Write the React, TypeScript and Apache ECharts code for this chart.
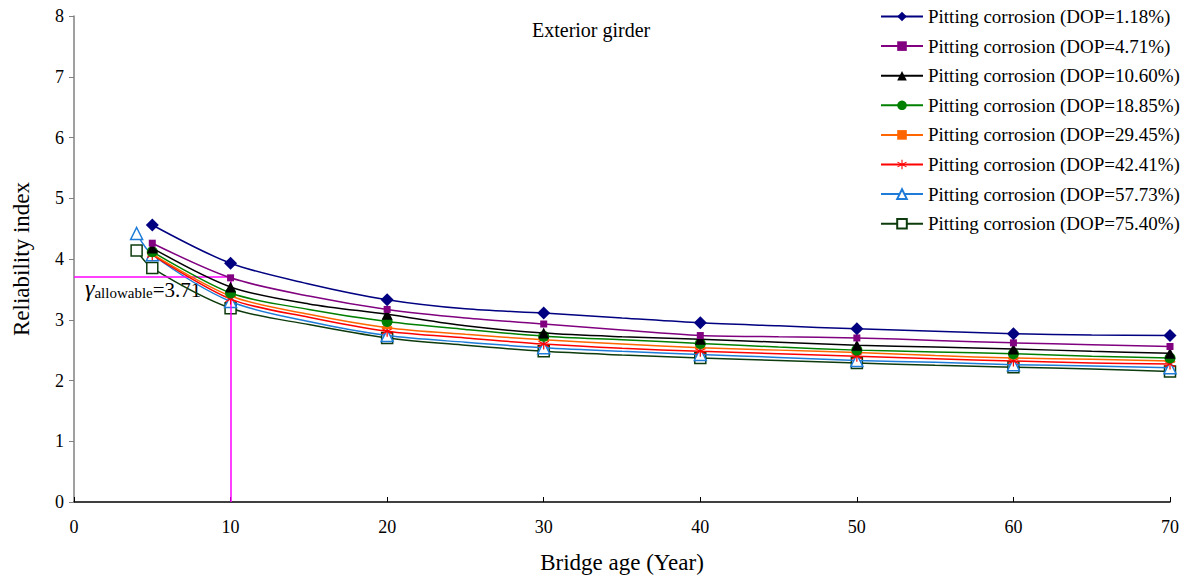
import React, { useEffect, useRef } from "react";
import * as echarts from "echarts";

// Bridge age (years) with data points; markers only on markerYears
const years = [5, 10, 15, 20, 25, 30, 35, 40, 45, 50, 55, 60, 65, 70];
const markerYears = [4, 5, 10, 20, 30, 40, 50, 60, 70];

const seriesNames = [
  "Pitting corrosion (DOP=1.18%)",
  "Pitting corrosion (DOP=4.71%)",
  "Pitting corrosion (DOP=10.60%)",
  "Pitting corrosion (DOP=18.85%)",
  "Pitting corrosion (DOP=29.45%)",
  "Pitting corrosion (DOP=42.41%)",
  "Pitting corrosion (DOP=57.73%)",
  "Pitting corrosion (DOP=75.40%)",
];

const dop118 = [4.56, 3.93, 3.59, 3.33, 3.18, 3.11, 3.03, 2.95, 2.9, 2.85, 2.81, 2.77, 2.75, 2.74];
const dop471 = [4.26, 3.69, 3.39, 3.17, 3.03, 2.93, 2.83, 2.74, 2.72, 2.7, 2.66, 2.62, 2.59, 2.56];
const dop1060 = [4.18, 3.54, 3.26, 3.09, 2.9, 2.78, 2.72, 2.68, 2.63, 2.58, 2.55, 2.52, 2.48, 2.45];
const dop1885 = [4.12, 3.44, 3.17, 2.97, 2.84, 2.73, 2.67, 2.61, 2.55, 2.5, 2.47, 2.44, 2.4, 2.37];
const dop2945 = [4.08, 3.39, 3.09, 2.87, 2.76, 2.67, 2.6, 2.54, 2.5, 2.46, 2.41, 2.37, 2.35, 2.32];
const dop4241 = [4.07, 3.34, 3.04, 2.81, 2.7, 2.6, 2.53, 2.48, 2.44, 2.4, 2.36, 2.32, 2.29, 2.27];
const dop5773 = [4.07, 3.3, 2.97, 2.74, 2.63, 2.54, 2.48, 2.43, 2.38, 2.33, 2.3, 2.26, 2.24, 2.21];
const dop7540 = [3.85, 3.19, 2.92, 2.7, 2.58, 2.48, 2.42, 2.37, 2.33, 2.29, 2.25, 2.22, 2.19, 2.15];

// Two series also have a value at age 4
const earlyYear = 4;
const dop5773Early = 4.42;
const dop7540Early = 4.14;

const allowable = 3.71;
const allowableAge = 10;

const xMin = 0;
const xMax = 70;
const xInterval = 10;
const yMin = 0;
const yMax = 8;
const yInterval = 1;

const FONT = "'Liberation Serif', 'Times New Roman', serif";

const asterisk =
  "path://M-1,-10L1,-10L1,10L-1,10Z M8.16,-5.87L9.16,-4.13L-8.16,5.87L-9.16,4.13Z M-9.16,-4.13L-8.16,-5.87L9.16,4.13L8.16,5.87Z";

const styles = [
  { color: "#000080", symbol: "diamond", symbolSize: 13, fill: "#000080" },
  { color: "#800080", symbol: "rect", symbolSize: 7, fill: "#800080" },
  { color: "#000000", symbol: "triangle", symbolSize: 11, fill: "#000000" },
  { color: "#008000", symbol: "circle", symbolSize: 11, fill: "#008000" },
  { color: "#FF6600", symbol: "rect", symbolSize: [10, 3], fill: "#FF6600" },
  { color: "#FF0000", symbol: asterisk, symbolSize: 11, fill: "#FF0000" },
  { color: "#1F7BD8", symbol: "triangle", symbolSize: 12, fill: "#FFFFFF" },
  { color: "#0D3B0D", symbol: "rect", symbolSize: 11, fill: "#FFFFFF" },
];

function buildData(vals: number[], early?: number) {
  const pts: any[] = [];
  if (early !== undefined) pts.push({ value: [earlyYear, early] });
  years.forEach((y, i) => {
    const item: any = { value: [y, vals[i]] };
    if (!markerYears.includes(y)) item.symbol = "none";
    pts.push(item);
  });
  return pts;
}

const allValues = [dop118, dop471, dop1060, dop1885, dop2945, dop4241, dop5773, dop7540];
const earlyValues = [undefined, undefined, undefined, undefined, undefined, undefined, dop5773Early, dop7540Early];

export default function App() {
  const ref = useRef<HTMLDivElement>(null);
  useEffect(() => {
    if (!ref.current) return;
    const chart = echarts.init(ref.current, null, { renderer: "svg" });
    const series: any[] = allValues.map((vals, i) => {
      const st = styles[i];
      const s: any = {
        name: seriesNames[i],
        type: "line",
        data: buildData(vals, earlyValues[i]),
        smooth: 0.3,
        symbol: st.symbol,
        symbolSize: st.symbolSize,
        showAllSymbol: true,
        lineStyle: { color: st.color, width: 1.5 },
        itemStyle: {
          color: st.fill,
          borderColor: st.color,
          borderWidth: st.fill === "#FFFFFF" ? 1.5 : 0,
        },
        z: 10 - i,
      };
      return s;
    });
    series.push({
      name: "allowable",
      type: "line",
      data: [],
      silent: true,
      markLine: {
        silent: true,
        symbol: "none",
        label: { show: false },
        lineStyle: { color: "#FF00FF", width: 1.5, type: "solid" },
        data: [
          [{ coord: [xMin, allowable] }, { coord: [allowableAge, allowable] }],
          [{ coord: [allowableAge, allowable] }, { coord: [allowableAge, yMin] }],
        ],
      },
      z: 1,
    });

    const legendData = seriesNames.map((n) => ({ name: n }));

    chart.setOption({
      animation: false,
      backgroundColor: "#ffffff",
      grid: { left: 74, right: 20, top: 16, bottom: 72, containLabel: false },
      xAxis: {
        type: "value",
        min: xMin,
        max: xMax,
        interval: xInterval,
        name: "Bridge age (Year)",
        nameLocation: "middle",
        nameGap: 49,
        nameTextStyle: { fontFamily: FONT, fontSize: 23, color: "#000" },
        axisLine: { lineStyle: { color: "#000", width: 1.5 } },
        axisTick: { show: true, inside: true, length: 5, lineStyle: { color: "#000" } },
        axisLabel: { fontFamily: FONT, fontSize: 18, color: "#000", margin: 16 },
        splitLine: { show: false },
      },
      yAxis: {
        type: "value",
        min: yMin,
        max: yMax,
        interval: yInterval,
        name: "Reliability index",
        nameLocation: "middle",
        nameGap: 41,
        nameTextStyle: { fontFamily: FONT, fontSize: 23, color: "#000" },
        axisLine: { show: true, lineStyle: { color: "#808080", width: 1.5 } },
        axisTick: { show: true, inside: false, length: 5, lineStyle: { color: "#808080" } },
        axisLabel: { fontFamily: FONT, fontSize: 18, color: "#000", margin: 10 },
        splitLine: { show: false },
      },
      legend: {
        orient: "vertical",
        left: 880,
        top: 7,
        padding: 0,
        itemWidth: 42,
        itemHeight: 12,
        itemGap: 10.6,
        data: legendData,
        textStyle: { fontFamily: FONT, fontSize: 19, color: "#000" },
      },
      graphic: [
        {
          type: "text",
          left: 532,
          top: 20,
          style: { text: "Exterior girder", font: `20px ${FONT}`, fill: "#000" },
        },
        {
          type: "text",
          left: 85,
          top: 276,
          style: {
            text: "{g|γ}{s|allowable}{v|=3.71}",
            rich: {
              g: { fontFamily: FONT, fontSize: 24, fontStyle: "italic", fill: "#000", verticalAlign: "bottom" },
              s: { fontFamily: FONT, fontSize: 15, fill: "#000", verticalAlign: "bottom" },
              v: { fontFamily: FONT, fontSize: 21, fill: "#000", verticalAlign: "bottom" },
            },
          },
        },
      ],
      series,
    });
    return () => chart.dispose();
  }, []);
  return <div ref={ref} style={{ width: 1190, height: 579, position: "absolute", left: 0, top: 0 }} />;
}
